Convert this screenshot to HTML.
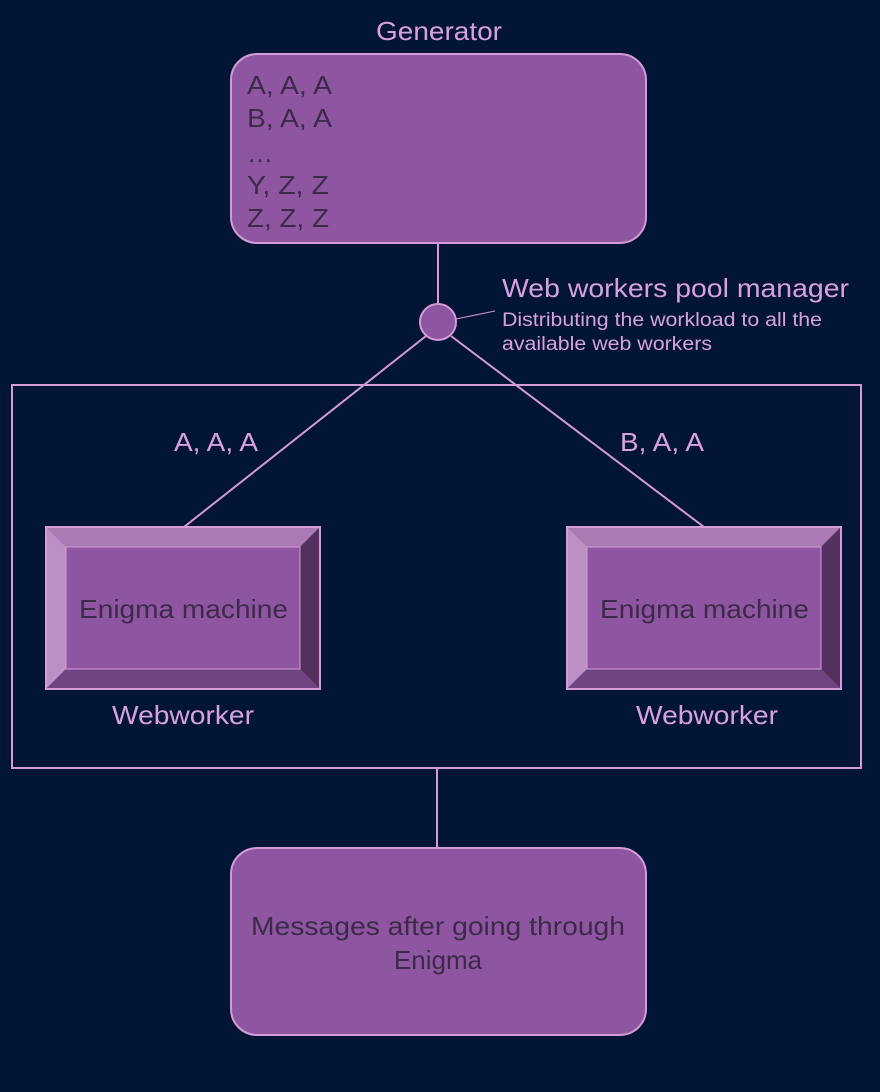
<!DOCTYPE html>
<html><head><style>body{margin:0;background:#021537}</style></head><body>
<svg width="880" height="1087" xmlns="http://www.w3.org/2000/svg" font-family="Liberation Sans, sans-serif">
<rect width="880" height="1087" fill="#021537"/>
<g stroke="#d69bd6" stroke-width="2" fill="none">
<line x1="438" y1="243" x2="438" y2="304"/>
<line x1="426" y1="336" x2="184" y2="527"/>
<line x1="451" y1="336" x2="704" y2="527"/>
<line x1="456" y1="319" x2="495" y2="311" stroke-width="1"/>
<rect x="12" y="385" width="849" height="383"/>
<line x1="437" y1="768" x2="437" y2="848"/>
</g>
<text x="376" y="40" textLength="126" lengthAdjust="spacingAndGlyphs" font-size="26" fill="#d9a0e0">Generator</text>
<rect x="231" y="54" width="415" height="189" rx="26" fill="#8e55a0" stroke="#d69bd6" stroke-width="2"/>
<g font-size="26" fill="#3d2a4b" lengthAdjust="spacingAndGlyphs">
<text x="247" y="94" textLength="85" lengthAdjust="spacingAndGlyphs">A, A, A</text>
<text x="247" y="127" textLength="85" lengthAdjust="spacingAndGlyphs">B, A, A</text>
<text x="247" y="162">…</text>
<text x="247" y="194" textLength="82" lengthAdjust="spacingAndGlyphs">Y, Z, Z</text>
<text x="247" y="227" textLength="82" lengthAdjust="spacingAndGlyphs">Z, Z, Z</text>
</g>
<circle cx="438" cy="322" r="18" fill="#8e55a0" stroke="#d69bd6" stroke-width="2"/>
<text x="502" y="297" textLength="347" lengthAdjust="spacingAndGlyphs" font-size="26" fill="#d9a0e0">Web workers pool manager</text>
<text x="502" y="326" textLength="320" lengthAdjust="spacingAndGlyphs" font-size="19" fill="#d9a0e0">Distributing the workload to all the</text>
<text x="502" y="350" textLength="210" lengthAdjust="spacingAndGlyphs" font-size="19" fill="#d9a0e0">available web workers</text>
<text x="174" y="451" textLength="84" lengthAdjust="spacingAndGlyphs" font-size="26" fill="#d9a0e0">A, A, A</text>
<text x="620" y="451" textLength="84" lengthAdjust="spacingAndGlyphs" font-size="26" fill="#d9a0e0">B, A, A</text>
<g id="b1">
<rect x="46" y="527" width="274" height="162" fill="#8e55a0"/>
<polygon points="46,527 320,527 300,547 66,547" fill="#a97ab4"/>
<polygon points="46,527 66,547 66,669 46,689" fill="#bb90c5"/>
<polygon points="320,527 320,689 300,669 300,547" fill="#53305f"/>
<polygon points="46,689 320,689 300,669 66,669" fill="#6e4580"/>
<rect x="46" y="527" width="274" height="162" fill="none" stroke="#d69bd6" stroke-width="2"/>
<rect x="66" y="547" width="234" height="122" fill="#8e55a0" stroke="#d69bd6" stroke-width="1"/>
<text x="79" y="618" textLength="209" lengthAdjust="spacingAndGlyphs" font-size="26" fill="#3d2a4b">Enigma machine</text>
</g>
<use href="#b1" x="521"/>
<text x="112" y="724" textLength="142" lengthAdjust="spacingAndGlyphs" font-size="26" fill="#d9a0e0">Webworker</text>
<text x="636" y="724" textLength="142" lengthAdjust="spacingAndGlyphs" font-size="26" fill="#d9a0e0">Webworker</text>
<rect x="231" y="848" width="415" height="187" rx="26" fill="#8e55a0" stroke="#d69bd6" stroke-width="2"/>
<text x="251" y="935" textLength="374" lengthAdjust="spacingAndGlyphs" font-size="26" fill="#3d2a4b">Messages after going through</text>
<text x="438" y="969" text-anchor="middle" font-size="26" fill="#3d2a4b">Enigma</text>
</svg>
</body></html>
